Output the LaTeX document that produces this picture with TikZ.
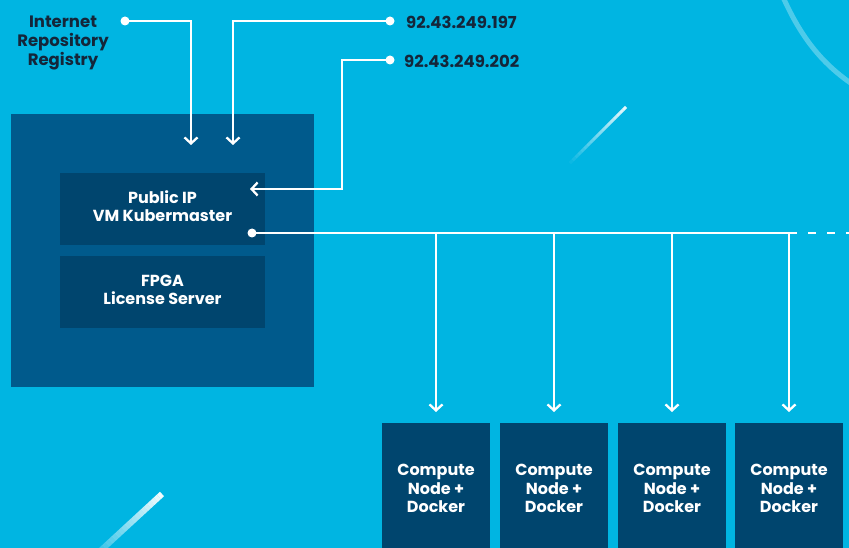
\documentclass[tikz,border=0pt]{standalone}
\usepackage{fontspec}
\setmainfont{Poppins}
\usetikzlibrary{arrows.meta,calc}

\definecolor{sky}{RGB}{0,181,226}
\definecolor{midblue}{RGB}{0,90,140}
\definecolor{deepblue}{RGB}{0,69,110}
\definecolor{ink}{RGB}{20,38,58}

\tikzset{
    box/.style={fill=deepblue, text=white, font=\bfseries\fontsize{16}{18.5}\selectfont, align=center, inner sep=0pt},
    lbl/.style={text=ink, font=\bfseries\fontsize{16.5}{19}\selectfont, align=center, inner sep=0pt},
    wire/.style={white, line width=2.3pt},
    tip/.style={-{Straight Barb[length=6pt,width=13pt,line width=2.3pt]}},
    dot/.style={circle, fill=white, inner sep=0pt, minimum size=9pt},
}
\newcommand{\boxtext}[2]{\raisebox{#1}[0pt][0pt]{\begin{tabular}{@{}c@{}}#2\end{tabular}}}

\begin{document}
\begin{tikzpicture}[x=1pt,y=-1pt]
    \fill[sky] (0,0) rectangle (849,548);
    \useasboundingbox (0,0) rectangle (849,548);

    % light streaks
    \foreach \i in {0,...,19}
        \draw[white, line width=3pt, opacity=\i/19*0.9]
            ($(567,166)!\i/20!(626,107)$) -- ($(567,166)!\i/20+0.05!(626,107)$);
    \foreach \i in {0,...,19}
        \draw[white, line width=6pt, opacity=0.2+\i/19*0.75]
            ($(98,553)!\i/20!(162,494)$) -- ($(98,553)!\i/20+0.05!(162,494)$);
    \draw[white, line width=5pt, opacity=0.3] (783,-3) .. controls (800,35) and (820,62) .. (852,84);

    % master box
    \fill[midblue] (11,114) rectangle (314,387);
    \node[box, minimum width=205pt, minimum height=72pt] (master) at (162.5,209) {\boxtext{-4pt}{Public IP\\VM Kubermaster}};
    \node[box, minimum width=205pt, minimum height=72pt] (fpga) at (162.5,292) {\boxtext{-4pt}{FPGA\\License Server}};

    % inputs
    \node[lbl] (reg) at (63,43) {Internet\\Repository\\Registry};
    \node[dot] (regdot) at (125,21) {};
    \node[lbl, anchor=west] (ipA) at (406,22) {92.43.249.197};
    \node[dot] (ipdotA) at (390,21) {};
    \node[lbl, anchor=west] (ipB) at (404,61) {92.43.249.202};
    \node[dot] (ipdotB) at (390,60) {};

    \coordinate (inReg) at (191,145);
    \coordinate (inA) at (233,145);
    \coordinate (inB) at (250,189);
    \draw[wire,tip] (regdot.center) -| (inReg);
    \draw[wire,tip] (ipdotA.center) -| (inA);
    \draw[wire,tip] (ipdotB.center) -| (342,189) -- (inB);

    % compute nodes
    \foreach \n/\x in {1/436,2/554,3/672,4/789}
        \node[box, minimum width=108pt, minimum height=125pt, anchor=north] (node\n) at (\x,423)
            {\boxtext{-9pt}{Compute\\Node +\\Docker}};

    % bus
    \node[dot] (busdot) at (252,233) {};
    \coordinate (busend) at (797,233);
    \draw[wire] (busdot.center) -- (busend);
    \draw[wire, dash pattern=on 8pt off 11pt] (busend) ++(11,0) -- (849,233);
    \foreach \n in {1,...,4}
        \draw[wire,tip,shorten >=11pt] (node\n.north |- busend) -- (node\n.north);
\end{tikzpicture}
\end{document}
